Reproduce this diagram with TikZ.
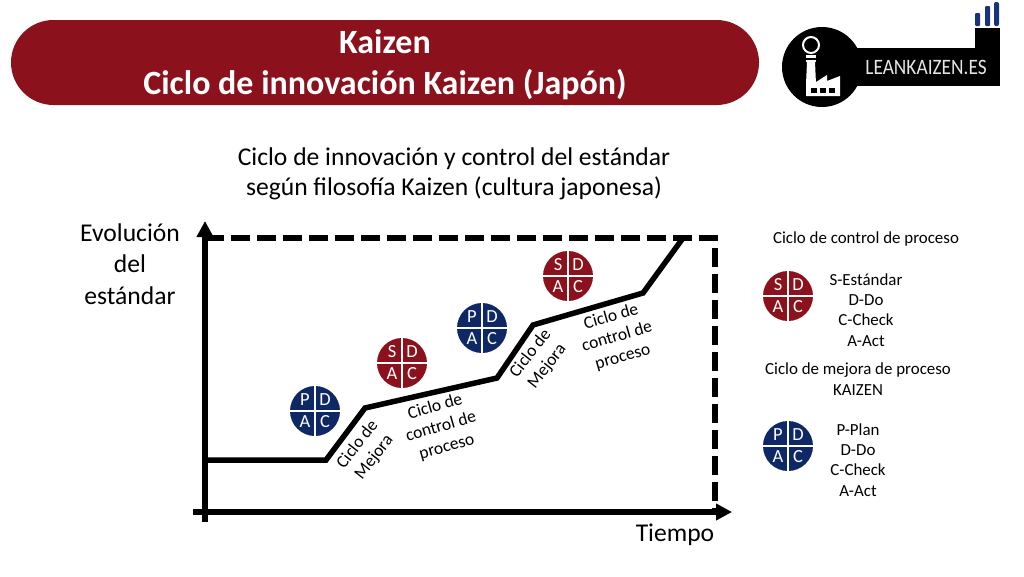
\documentclass[tikz,border=0pt]{standalone}
\usepackage{fontspec}
\setmainfont{Carlito}
\definecolor{KaizenRed}{RGB}{139, 18, 28}
\definecolor{KaizenBlue}{RGB}{14, 40, 102}
\definecolor{LogoBlue}{RGB}{24, 52, 120}
\usetikzlibrary{arrows.meta, positioning}
\tikzset{
  heavyline/.style={line width=5.5pt},
  axisarrow/.style={heavyline, -{Triangle[length=16pt, width=16pt]}},
  titletext/.style={font=\fontsize{34}{41}\selectfont\bfseries, text=white, align=center},
  headtext/.style={font=\fontsize{25.6}{30}\selectfont, align=center},
  labeltext/.style={font=\fontsize{25.6}{31.5}\selectfont, align=center},
  curvetext/.style={font=\fontsize{17.5}{21}\selectfont, align=center},
  legendtext/.style={font=\fontsize{16.9}{20.3}\selectfont, align=center},
  badgeletter/.style={font=\fontsize{18.5}{20}\selectfont, text=white, inner sep=0pt}
}
% badge: name, centre, colour, first letter
\newcommand{\cyclebadge}[4]{
  \fill[#3] (#2) circle (25);
  \draw[white, line width=2.4pt] ([xshift=-25pt]#2) -- ([xshift=25pt]#2);
  \draw[white, line width=2.4pt] ([yshift=-25pt]#2) -- ([yshift=25pt]#2);
  \node[badgeletter] (#1-a) at ([xshift=-10pt,yshift=11pt]#2) {#4};
  \node[badgeletter] (#1-b) at ([xshift=10pt,yshift=11pt]#2) {D};
  \node[badgeletter] (#1-c) at ([xshift=-10pt,yshift=-11pt]#2) {A};
  \node[badgeletter] (#1-d) at ([xshift=10pt,yshift=-11pt]#2) {C};
}
\begin{document}
\begin{tikzpicture}[x=1pt, y=-1pt]
  \useasboundingbox (0,0) rectangle (1024,576);
  \fill[white] (0,0) rectangle (1024,576);

  % Title
  \fill[KaizenRed, rounded corners=42.5pt] (11,20) rectangle (759,105);
  \node[titletext] (title) at (385,65) {Kaizen\\Ciclo de innovación Kaizen (Japón)};

  % Logo
  \fill[black] (822,67) circle (40);
  \fill[black] (850,48) rectangle (1000,86);
  \fill[black] (975,28) rectangle (1000,48);
  \fill[LogoBlue, rounded corners=1pt] (975,13) rectangle (980,26);
  \fill[LogoBlue, rounded corners=1pt] (985,6) rectangle (990,26);
  \fill[LogoBlue, rounded corners=2pt] (994,2) rectangle (999,26);
  \draw[white, line width=2pt] (811,45) circle (8);
  \fill[white] (806,55) rectangle (816,58);
  \fill[white] (806,59.5) rectangle (816,62);
  \fill[white] (807,62) -- (815,62) -- (816,84) -- (806,84) -- cycle;
  \fill[white] (806,84) -- (816,84) -- (816,82) -- (827,75) -- (827,81) -- (840,76) -- (840,96) -- (806,96) -- cycle;
  \fill[black] (811,88) rectangle (817,93);
  \fill[black] (820,88) rectangle (826,93);
  \fill[black] (829,88) rectangle (835,93);
  \node[font=\fontsize{22}{22}\selectfont, text=white!90!black, xscale=0.88] (logotext) at (926,67) {LEANKAIZEN.ES};

  % Heading
  \node[headtext] (heading) at (454,174) {Ciclo de innovación y control del estándar\\según filosofía Kaizen (cultura japonesa)};

  % Axes
  \draw[heavyline, dash pattern=on 19pt off 7pt] (205,238) -- (715,238) -- (715,512);
  \draw[axisarrow] (205,522) -- (205,221);
  \draw[axisarrow] (193,512) -- (732,512);
  \node[labeltext] (ylabel) at (130,264) {Evolución\\del\\estándar};
  \node[labeltext] (xlabel) at (675,535) {Tiempo};

  % Standard evolution
  \draw[heavyline, line join=miter] (205,460) -- (326,460) -- (365,408) -- (497,378) -- (533,325) -- (643,293) -- (683,238);
  \node[curvetext, rotate=52] (improve1) at (366,451) {Ciclo de\\Mejora};
  \node[curvetext, rotate=52] (improve2) at (539,360) {Ciclo de\\Mejora};
  \node[curvetext, rotate=16] (control1) at (441,427) {Ciclo de\\control de\\proceso};
  \node[curvetext, rotate=16] (control2) at (617,337) {Ciclo de\\control de\\proceso};

  % Badges
  \cyclebadge{pdca1}{315,411}{KaizenBlue}{P}
  \cyclebadge{sdca1}{402,363}{KaizenRed}{S}
  \cyclebadge{pdca2}{482,328}{KaizenBlue}{P}
  \cyclebadge{sdca2}{568,276}{KaizenRed}{S}

  % Legend
  \node[legendtext] (legendtop) at (866,239) {Ciclo de control de proceso};
  \cyclebadge{sdcakey}{788,296}{KaizenRed}{S}
  \node[legendtext] (sdcatext) at (866,310) {S-Estándar\\D-Do\\C-Check\\A-Act};
  \node[legendtext] (legendlow) at (858,379) {Ciclo de mejora de proceso\\KAIZEN};
  \cyclebadge{pdcakey}{788,446}{KaizenBlue}{P}
  \node[legendtext] (pdcatext) at (858,460) {P-Plan\\D-Do\\C-Check\\A-Act};
\end{tikzpicture}
\end{document}
